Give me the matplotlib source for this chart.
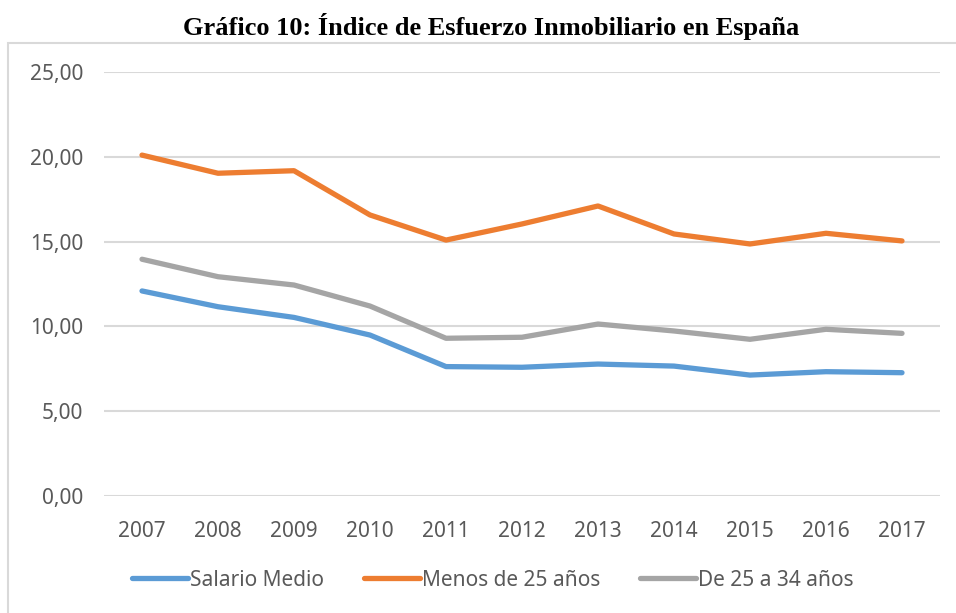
import matplotlib.pyplot as plt
from matplotlib.patches import Rectangle
from matplotlib.ticker import FuncFormatter

years = ['2007', '2008', '2009', '2010', '2011', '2012', '2013', '2014', '2015', '2016', '2017']
salario_medio = [12.09, 11.16, 10.53, 9.49, 7.63, 7.59, 7.78, 7.66, 7.13, 7.33, 7.27]
menos_25 = [20.10, 19.03, 19.18, 16.57, 15.09, 16.04, 17.10, 15.45, 14.86, 15.49, 15.04]
de_25_34 = [13.96, 12.93, 12.44, 11.20, 9.30, 9.36, 10.14, 9.73, 9.24, 9.83, 9.59]

series = [
    ('Salario Medio', salario_medio, '#5B9BD5'),
    ('Menos de 25 años', menos_25, '#ED7D31'),
    ('De 25 a 34 años', de_25_34, '#A5A5A5'),
]

W, H = 956, 613
fig = plt.figure(figsize=(W / 100, H / 100), dpi=100)

# marco del gráfico (solo se ven el borde izquierdo y el superior)
fig.patches.append(Rectangle((8 / W, -0.05), 1.0, (H - 43) / H + 0.05,
                             transform=fig.transFigure, fill=False,
                             edgecolor='#D9D9D9', linewidth=1.5))

fig.text(491 / W, 1 - 27 / H, 'Gráfico 10: Índice de Esfuerzo Inmobiliario en España',
         ha='center', va='center', family='Liberation Serif',
         fontweight='bold', fontsize=19)

ax = fig.add_axes([104 / W, 1 - 496 / H, (940 - 104) / W, (496 - 72) / H])
x = range(len(years))
for name, vals, col in series:
    ax.plot(x, vals, color=col, linewidth=3.8, label=name, solid_capstyle='round')

ax.set_xlim(-0.5, len(years) - 0.5)
ax.set_ylim(0, 25)
ax.set_yticks([0, 5, 10, 15, 20, 25])
ax.yaxis.set_major_formatter(FuncFormatter(lambda v, p: f'{v:.2f}'.replace('.', ',')))
ax.set_xticks(list(x))
ax.set_xticklabels(years)
ax.grid(axis='y', color='#D9D9D9', linewidth=1.5)
ax.set_axisbelow(True)
for s in ax.spines.values():
    s.set_visible(False)
ax.tick_params(length=0, labelsize=15, labelcolor='#595959')
ax.tick_params(axis='y', pad=15)
ax.tick_params(axis='x', pad=18)
for lab in ax.get_xticklabels() + ax.get_yticklabels():
    lab.set_family('Noto Sans')

leg = ax.legend(loc='center', bbox_to_anchor=(493 / W, 1 - 580 / H),
                bbox_transform=fig.transFigure, ncol=3, frameon=False,
                handlelength=2.7, handletextpad=0.1, columnspacing=1.9,
                prop={'family': 'Noto Sans', 'size': 15})
for t in leg.get_texts():
    t.set_color('#595959')

fig.savefig('out.png', dpi=100)
